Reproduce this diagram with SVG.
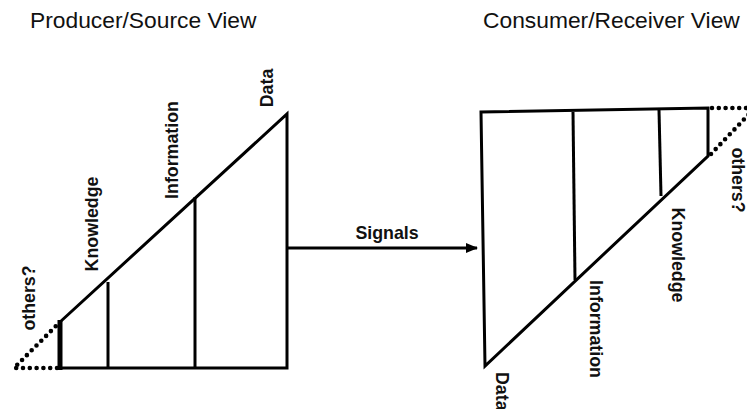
<svg xmlns="http://www.w3.org/2000/svg" width="747" height="409" viewBox="0 0 747 409">
  <style>
    .title { font-family: "Liberation Sans", Arial, sans-serif; font-size: 22.8px; fill: #111; }
    .lbl { font-family: "Liberation Sans", Arial, sans-serif; font-size: 17.8px; font-weight: bold; fill: #111; }
    .edge { fill: none; stroke: #000; stroke-width: 3; stroke-linejoin: miter; stroke-linecap: square; }
    .div { fill: none; stroke: #000; stroke-width: 3; }
    .dots { fill: none; stroke: #000; stroke-width: 4.6; stroke-linecap: round; stroke-dasharray: 0 6.8; }
  </style>
  <defs>
    <marker id="arrow" viewBox="0 0 12 10" refX="11" refY="5" markerWidth="12" markerHeight="10" markerUnits="userSpaceOnUse" orient="auto">
      <path d="M0,0 L12,5 L0,10 Z" fill="#000"/>
    </marker>
  </defs>

  <rect width="747" height="409" fill="#fff"/>

  <!-- headings -->
  <text class="title" x="30" y="28">Producer/Source View</text>
  <text class="title" x="483" y="28">Consumer/Receiver View</text>

  <!-- producer side: wedge growing from others? to data -->
  <g id="producer">
    <path class="dots" d="M57,368 L14,368 L57,325"/>
    <path class="edge" d="M60,322 L287,114 L287,368 L60,368"/>
    <line x1="60" y1="320" x2="60" y2="370" stroke="#000" stroke-width="5"/>
    <line class="div" x1="108" y1="282" x2="108" y2="368"/>
    <line class="div" x1="195" y1="197" x2="195" y2="368"/>
    <text class="lbl" text-anchor="middle" transform="translate(35,298) rotate(-90)">others?</text>
    <text class="lbl" text-anchor="middle" transform="translate(98,224) rotate(-90)">Knowledge</text>
    <text class="lbl" text-anchor="middle" transform="translate(178,150) rotate(-90)">Information</text>
    <text class="lbl" text-anchor="middle" transform="translate(273,88) rotate(-90)">Data</text>
  </g>

  <!-- consumer side: wedge shrinking from data to others? -->
  <g id="consumer">
    <path class="dots" d="M712,108 L752,108 M711,154 L752,111"/>
    <path class="edge" d="M485,366 L481,112 L708,108 L708,156 Z"/>
    <line class="div" x1="573" y1="112" x2="575" y2="280"/>
    <line class="div" x1="659" y1="110" x2="661" y2="196"/>
    <text class="lbl" text-anchor="middle" transform="translate(732,180) rotate(90)">others?</text>
    <text class="lbl" text-anchor="middle" transform="translate(672,255) rotate(90)">Knowledge</text>
    <text class="lbl" text-anchor="middle" transform="translate(590,329) rotate(90)">Information</text>
    <text class="lbl" text-anchor="start" transform="translate(496,372) rotate(90)">Data</text>
  </g>

  <!-- connectors -->
  <g id="connectors">
    <line x1="288" y1="248" x2="477" y2="248" stroke="#000" stroke-width="3" marker-end="url(#arrow)"/>
    <text class="lbl" x="387" y="239" text-anchor="middle">Signals</text>
  </g>
</svg>
